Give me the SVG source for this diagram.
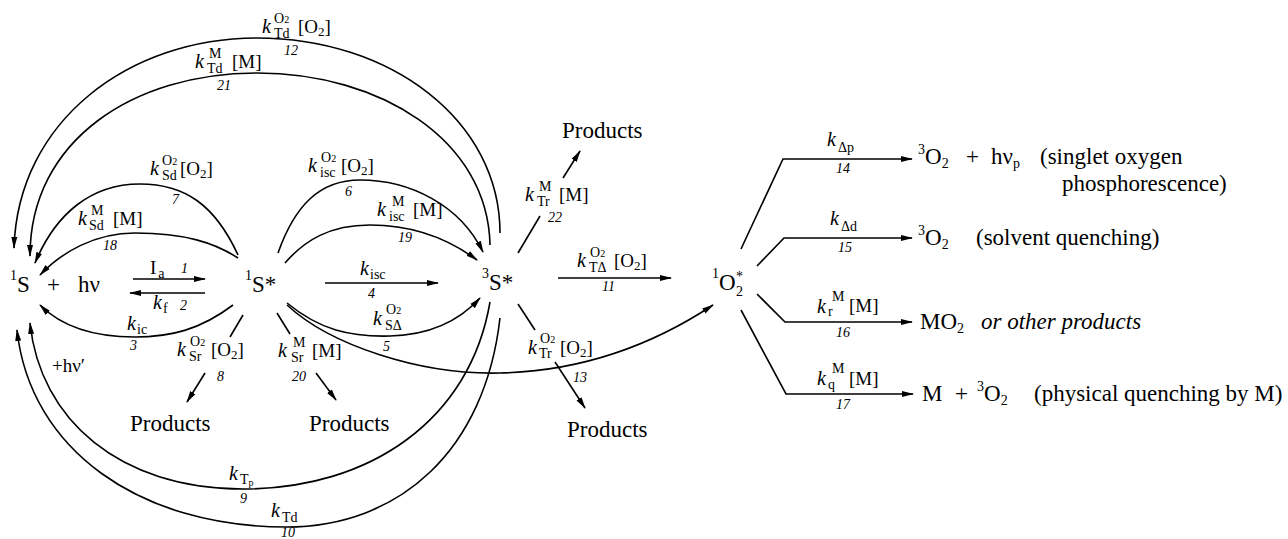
<svg xmlns="http://www.w3.org/2000/svg" width="1288" height="539" viewBox="0 0 1288 539">
<defs>
<marker id="ah" markerUnits="userSpaceOnUse" markerWidth="12" markerHeight="8" refX="11" refY="4" orient="auto">
<path d="M0,1 L12,4 L0,7 z" fill="#000"/>
</marker>
<style>
text{font-family:"Liberation Serif",serif;fill:#000}
.n{font-size:23px}
.sup{font-size:14px}
.k{font-size:20px;font-style:italic}
.s{font-size:14px}
.s9{font-size:10px}
.b{font-size:19px}
.bs{font-size:13px}
.num{font-size:14px;font-style:italic}
.p{font-size:23px}
.r{font-size:23px}
.c path{fill:none;stroke:#000;stroke-width:1.6}
.c .a{marker-end:url(#ah)}
</style>
</defs>
<rect width="1288" height="539" fill="#fff"/>

<g id="connectors" class="c">
<path class="a" d="M500,233 C500,120 390,38 257,38 C130,38 18,120 14,248"/>
<path class="a" d="M490,245 C488,140 380,73 257,73 C134,73 30,140 30,256"/>
<path class="a" d="M238,255 C215,205 185,184 140,184 C90,184 55,215 35,263"/>
<path class="a" d="M238,258 C215,243 185,233 135,233 C95,233 62,252 40,275"/>
<path class="a" d="M133,279 L205,279"/>
<path class="a" d="M205,293 L130,293"/>
<path class="a" d="M233,305 C200,330 170,337 135,337 C90,337 60,325 40,305"/>
<path class="a" d="M278,253 C295,205 320,180 360,180 C410,180 460,205 483,252"/>
<path class="a" d="M285,263 C305,240 330,225 370,225 C415,225 450,240 477,260"/>
<path class="a" d="M325,283 L438,283"/>
<path class="a" d="M287,303 C320,330 350,337 390,336 C430,335 460,320 480,298"/>
<path class="a" d="M287,305 C330,345 420,375 500,373 C590,371 660,340 713,305"/>
<path d="M243,315 L230,337"/>
<path class="a" d="M205,373 L187,402"/>
<path d="M277,313 L290,334"/>
<path class="a" d="M316,373 L336,400"/>
<path class="a" d="M490,302 C470,420 370,489 243,489 C120,489 40,420 30,323"/>
<path class="a" d="M500,318 C485,450 400,527 286,527 C140,527 30,450 17,330"/>
<path d="M518,253 L540,216"/>
<path class="a" d="M563,178 L580,151"/>
<path class="a" d="M558,278 L671,278"/>
<path d="M518,304 L535,330"/>
<path class="a" d="M555,362 L585,408"/>
<path class="a" d="M741,249 L783,159 L912,159"/>
<path class="a" d="M757,266 L784,238 L912,238"/>
<path class="a" d="M757,294 L785,322 L912,322"/>
<path class="a" d="M741,310 L786,394 L913,394"/>
</g>

<g id="labels">
<text class="k" x="262" y="33">k</text>
<text class="s" x="274" y="23">O<tspan class="s9">2</tspan></text>
<text class="s" x="274" y="38">Td</text>
<text class="b" x="298" y="33">[O<tspan class="bs" dy="3">2</tspan><tspan dy="-3">]</tspan></text>
<text class="num" x="284" y="55">12</text>

<text class="k" x="195" y="68">k</text>
<text class="s" x="209" y="58">M</text>
<text class="s" x="207" y="73">Td</text>
<text class="b" x="232" y="68">[M]</text>
<text class="num" x="217" y="90">21</text>

<text class="k" x="150" y="175">k</text>
<text class="s" x="162" y="165">O<tspan class="s9">2</tspan></text>
<text class="s" x="162" y="180">Sd</text>
<text class="b" x="180" y="175">[O<tspan class="bs" dy="3">2</tspan><tspan dy="-3">]</tspan></text>
<text class="num" x="172" y="204">7</text>

<text class="k" x="78" y="225">k</text>
<text class="s" x="91" y="215">M</text>
<text class="s" x="89" y="230">Sd</text>
<text class="b" x="113" y="225">[M]</text>
<text class="num" x="103" y="250">18</text>

<text class="k" x="308" y="172">k</text>
<text class="s" x="321" y="162">O<tspan class="s9">2</tspan></text>
<text class="s" x="320" y="177">isc</text>
<text class="b" x="341" y="172">[O<tspan class="bs" dy="3">2</tspan><tspan dy="-3">]</tspan></text>
<text class="num" x="345" y="196">6</text>

<text class="k" x="377" y="216">k</text>
<text class="s" x="392" y="206">M</text>
<text class="s" x="389" y="221">isc</text>
<text class="b" x="413" y="216">[M]</text>
<text class="num" x="398" y="242">19</text>

<text class="b" x="150" y="274">I<tspan class="s" dy="4" dx="2">a</tspan></text>
<text class="num" x="181" y="273">1</text>
<text class="k" x="153" y="309">k</text>
<text class="s" x="163" y="313">f</text>
<text class="num" x="180" y="310">2</text>

<text class="k" x="360" y="275">k</text>
<text class="s" x="370" y="279">isc</text>
<text class="num" x="368" y="298">4</text>

<text class="k" x="127" y="330">k</text>
<text class="s" x="137" y="334">ic</text>
<text class="num" x="130" y="350">3</text>

<text class="k" x="177" y="356">k</text>
<text class="s" x="190" y="346">O<tspan class="s9">2</tspan></text>
<text class="s" x="189" y="361">Sr</text>
<text class="b" x="211" y="356">[O<tspan class="bs" dy="3">2</tspan><tspan dy="-3">]</tspan></text>
<text class="num" x="217" y="381">8</text>

<text class="k" x="278" y="357">k</text>
<text class="s" x="293" y="347">M</text>
<text class="s" x="291" y="362">Sr</text>
<text class="b" x="312" y="357">[M]</text>
<text class="num" x="292" y="381">20</text>

<text class="k" x="373" y="325">k</text>
<text class="s" x="386" y="314">O<tspan class="s9">2</tspan></text>
<text class="s" x="385" y="330">SΔ</text>
<text class="num" x="383" y="351">5</text>

<text class="k" x="525" y="201">k</text>
<text class="s" x="539" y="191">M</text>
<text class="s" x="537" y="206">Tr</text>
<text class="b" x="559" y="201">[M]</text>
<text class="num" x="548" y="222">22</text>

<text class="k" x="577" y="267">k</text>
<text class="s" x="590" y="257">O<tspan class="s9">2</tspan></text>
<text class="s" x="589" y="272">TΔ</text>
<text class="b" x="614" y="267">[O<tspan class="bs" dy="3">2</tspan><tspan dy="-3">]</tspan></text>
<text class="num" x="602" y="291">11</text>

<text class="k" x="528" y="354">k</text>
<text class="s" x="540" y="343">O<tspan class="s9">2</tspan></text>
<text class="s" x="539" y="358">Tr</text>
<text class="b" x="560" y="354">[O<tspan class="bs" dy="3">2</tspan><tspan dy="-3">]</tspan></text>
<text class="num" x="573" y="382">13</text>

<text class="b" x="52" y="372">+hν′</text>
<text class="k" x="229" y="480">k</text>
<text class="s" x="240" y="484">T<tspan class="s9" dy="2">p</tspan></text>
<text class="num" x="240" y="503">9</text>
<text class="k" x="271" y="517">k</text>
<text class="s" x="282" y="522">Td</text>
<text class="num" x="281" y="537">10</text>

<text class="k" x="827" y="146">k</text>
<text class="s" x="838" y="152">Δp</text>
<text class="num" x="836" y="173">14</text>
<text class="k" x="830" y="225">k</text>
<text class="s" x="841" y="231">Δd</text>
<text class="num" x="838" y="252">15</text>
<text class="k" x="817" y="313">k</text>
<text class="s" x="828" y="316">r</text>
<text class="s" x="832" y="301">M</text>
<text class="b" x="849" y="312">[M]</text>
<text class="num" x="836" y="337">16</text>
<text class="k" x="817" y="385">k</text>
<text class="s" x="828" y="389">q</text>
<text class="s" x="832" y="373">M</text>
<text class="b" x="849" y="385">[M]</text>
<text class="num" x="836" y="409">17</text>
</g>

<g id="n-1S">
<text class="sup" x="10" y="280">1</text>
<text class="n" x="17" y="292">S</text>
<text class="n" x="47" y="292">+</text>
<text class="n" x="78" y="292">hν</text>
</g>
<g id="n-1Sstar">
<text class="sup" x="245" y="280">1</text>
<text class="n" x="252" y="292">S*</text>
</g>
<g id="n-3Sstar">
<text class="sup" x="482" y="278">3</text>
<text class="n" x="489" y="290">S*</text>
</g>
<g id="n-1O2star">
<text class="sup" x="712" y="278">1</text>
<text class="n" x="719" y="290">O</text>
<text class="sup" x="736" y="296">2</text>
<text class="sup" x="736" y="281">*</text>
</g>
<g id="products-8"><text class="p" x="130" y="431">Products</text></g>
<g id="products-20"><text class="p" x="309" y="431">Products</text></g>
<g id="products-22"><text class="p" x="562" y="138">Products</text></g>
<g id="products-13"><text class="p" x="567" y="437">Products</text></g>
<g id="prod-14">
<text class="sup" x="918" y="154">3</text>
<text class="r" x="925" y="164">O<tspan class="s" dy="4">2</tspan></text>
<text class="r" x="966" y="164">+</text>
<text class="r" x="991" y="164">hν<tspan class="s" dy="4">p</tspan></text>
<text class="r" x="1040" y="164">(singlet oxygen</text>
<text class="r" x="1062" y="191">phosphorescence)</text>
</g>
<g id="prod-15">
<text class="sup" x="918" y="235">3</text>
<text class="r" x="925" y="245">O<tspan class="s" dy="4">2</tspan></text>
<text class="r" x="976" y="245">(solvent quenching)</text>
</g>
<g id="prod-16">
<text class="r" x="920" y="329">MO<tspan class="s" dy="4">2</tspan></text>
<text class="r" x="981" y="329" font-style="italic">or other products</text>
</g>
<g id="prod-17">
<text class="r" x="922" y="401">M</text>
<text class="r" x="955" y="401">+</text>
<text class="sup" x="977" y="391">3</text>
<text class="r" x="984" y="401">O<tspan class="s" dy="4">2</tspan></text>
<text class="r" x="1034" y="401">(physical quenching by M)</text>
</g>
</svg>
